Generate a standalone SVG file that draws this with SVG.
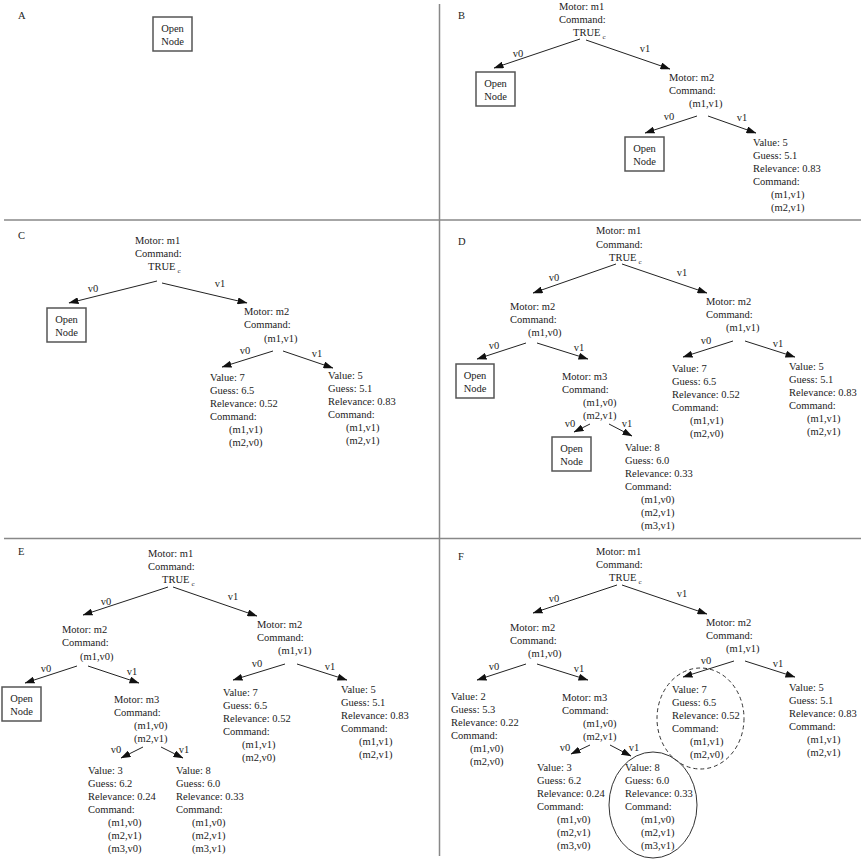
<svg xmlns="http://www.w3.org/2000/svg" width="861" height="861" viewBox="0 0 861 861">
<style>
text{font-family:"Liberation Serif","Times New Roman",serif;font-size:10.5px;fill:#222}
.lbl{text-anchor:middle}
.mid{text-anchor:middle}
.sub{font-size:7px}
.edge{stroke:#222;stroke-width:1;fill:none;marker-end:url(#ah)}
.box{fill:#fff;stroke:#555;stroke-width:1.5}
.div{stroke:#888;stroke-width:1.5}
.sel{fill:none;stroke:#333;stroke-width:1}
.cand{fill:none;stroke:#333;stroke-width:1;stroke-dasharray:4,3}
</style>
<defs>
<marker id="ah" markerUnits="userSpaceOnUse" markerWidth="10" markerHeight="7" refX="9.5" refY="3.5" orient="auto">
<path d="M0,0 L10,3.5 L0,7 z" fill="#111"/>
</marker>
</defs>
<rect width="861" height="861" fill="#fff"/>
<g id="dividers">
<line class="div" x1="439.5" y1="4" x2="439.5" y2="856"/>
<line class="div" x1="4" y1="220" x2="861" y2="220"/>
<line class="div" x1="4" y1="538.5" x2="861" y2="538.5"/>
</g>
<g id="panel-labels">
<text x="18" y="19">A</text>
<text x="458" y="19">B</text>
<text x="18" y="239">C</text>
<text x="458" y="245">D</text>
<text x="18" y="555">E</text>
<text x="458" y="560">F</text>
</g>
<g id="connectors">
<line class="edge" x1="580" y1="39" x2="494" y2="68"/>
<line class="edge" x1="586" y1="40" x2="670" y2="69"/>
<line class="edge" x1="697" y1="116" x2="645" y2="133"/>
<line class="edge" x1="708" y1="116" x2="756" y2="133"/>
<line class="edge" x1="157" y1="281" x2="69" y2="303"/>
<line class="edge" x1="162" y1="283" x2="247" y2="303"/>
<line class="edge" x1="273" y1="351" x2="222" y2="367"/>
<line class="edge" x1="283" y1="351" x2="333" y2="368"/>
<line class="edge" x1="616" y1="264" x2="533" y2="293"/>
<line class="edge" x1="622" y1="264" x2="707" y2="293"/>
<line class="edge" x1="526" y1="343" x2="477" y2="359"/>
<line class="edge" x1="537" y1="343" x2="588" y2="359"/>
<line class="edge" x1="590" y1="424" x2="574" y2="432"/>
<line class="edge" x1="609" y1="424" x2="632" y2="436"/>
<line class="edge" x1="733" y1="341" x2="683" y2="357"/>
<line class="edge" x1="745" y1="341" x2="795" y2="357"/>
<line class="edge" x1="168" y1="587" x2="83" y2="615"/>
<line class="edge" x1="173" y1="587" x2="257" y2="616"/>
<line class="edge" x1="77" y1="666" x2="25" y2="683"/>
<line class="edge" x1="88" y1="666" x2="139" y2="683"/>
<line class="edge" x1="143" y1="747" x2="121" y2="758"/>
<line class="edge" x1="161" y1="747" x2="183" y2="758"/>
<line class="edge" x1="285" y1="664" x2="233" y2="680"/>
<line class="edge" x1="297" y1="664" x2="347" y2="680"/>
<line class="edge" x1="617" y1="585" x2="533" y2="613"/>
<line class="edge" x1="622" y1="585" x2="707" y2="614"/>
<line class="edge" x1="526" y1="664" x2="477" y2="680"/>
<line class="edge" x1="537" y1="664" x2="588" y2="680"/>
<line class="edge" x1="590" y1="745" x2="571" y2="754"/>
<line class="edge" x1="610" y1="745" x2="631" y2="756"/>
<line class="edge" x1="734" y1="661" x2="683" y2="677"/>
<line class="edge" x1="745" y1="661" x2="795" y2="677"/>
<text class="lbl" x="518" y="56.5">v0</text>
<text class="lbl" x="645" y="51.5">v1</text>
<text class="lbl" x="669" y="119.5">v0</text>
<text class="lbl" x="742" y="120.5">v1</text>
<text class="lbl" x="93" y="291.5">v0</text>
<text class="lbl" x="220" y="286.5">v1</text>
<text class="lbl" x="245" y="353.5">v0</text>
<text class="lbl" x="317" y="356.5">v1</text>
<text class="lbl" x="554" y="280.5">v0</text>
<text class="lbl" x="682" y="275.5">v1</text>
<text class="lbl" x="494" y="348.5">v0</text>
<text class="lbl" x="579" y="350.5">v1</text>
<text class="lbl" x="570" y="426.5">v0</text>
<text class="lbl" x="627" y="426.5">v1</text>
<text class="lbl" x="706" y="343.5">v0</text>
<text class="lbl" x="778" y="346.5">v1</text>
<text class="lbl" x="106" y="604.5">v0</text>
<text class="lbl" x="233" y="599.5">v1</text>
<text class="lbl" x="46" y="671.5">v0</text>
<text class="lbl" x="132" y="674.5">v1</text>
<text class="lbl" x="116" y="752.5">v0</text>
<text class="lbl" x="184" y="752.5">v1</text>
<text class="lbl" x="257" y="666.5">v0</text>
<text class="lbl" x="330" y="669.5">v1</text>
<text class="lbl" x="554" y="601.5">v0</text>
<text class="lbl" x="682" y="596.5">v1</text>
<text class="lbl" x="494" y="669.5">v0</text>
<text class="lbl" x="579" y="671.5">v1</text>
<text class="lbl" x="565" y="750.5">v0</text>
<text class="lbl" x="634" y="750.5">v1</text>
<text class="lbl" x="706" y="663.5">v0</text>
<text class="lbl" x="778" y="666.5">v1</text>
</g>
<!-- Panel A -->
<g id="A-open"><rect class="box" x="153" y="17" width="39" height="34"/><text class="mid" x="172.5" y="32">Open</text><text class="mid" x="172.5" y="44.5">Node</text></g>
<!-- Panel B -->
<g id="B-root"><text x="559" y="10">Motor: m1</text><text x="559" y="23">Command:</text><text x="573" y="36">TRUE<tspan class="sub" dx="2" dy="3">c</tspan></text></g>
<g id="B-open1"><rect class="box" x="476" y="72" width="39" height="34"/><text class="mid" x="495.5" y="87">Open</text><text class="mid" x="495.5" y="99.5">Node</text></g>
<g id="B-m2"><text x="669" y="81">Motor: m2</text><text x="669" y="94">Command:</text><text x="689" y="107">(m1,v1)</text></g>
<g id="B-open2"><rect class="box" x="625" y="137" width="39" height="34"/><text class="mid" x="644.5" y="152">Open</text><text class="mid" x="644.5" y="164.5">Node</text></g>
<g id="B-leaf5"><text x="753" y="146">Value: 5</text><text x="753" y="159">Guess: 5.1</text><text x="753" y="172">Relevance: 0.83</text><text x="753" y="185">Command:</text><text x="771" y="198">(m1,v1)</text><text x="771" y="211">(m2,v1)</text></g>
<!-- Panel C -->
<g id="C-root"><text x="135" y="244">Motor: m1</text><text x="135" y="257">Command:</text><text x="148" y="270">TRUE<tspan class="sub" dx="2" dy="3">c</tspan></text></g>
<g id="C-open"><rect class="box" x="47" y="308" width="39" height="34"/><text class="mid" x="66.5" y="323">Open</text><text class="mid" x="66.5" y="335.5">Node</text></g>
<g id="C-m2"><text x="244" y="315">Motor: m2</text><text x="244" y="328">Command:</text><text x="264" y="342">(m1,v1)</text></g>
<g id="C-leaf7"><text x="210" y="381">Value: 7</text><text x="210" y="394">Guess: 6.5</text><text x="210" y="407">Relevance: 0.52</text><text x="210" y="420">Command:</text><text x="229" y="433">(m1,v1)</text><text x="229" y="446">(m2,v0)</text></g>
<g id="C-leaf5"><text x="328" y="379">Value: 5</text><text x="328" y="392">Guess: 5.1</text><text x="328" y="405">Relevance: 0.83</text><text x="328" y="418">Command:</text><text x="346" y="431">(m1,v1)</text><text x="346" y="444">(m2,v1)</text></g>
<!-- Panel D -->
<g id="D-root"><text x="596" y="234">Motor: m1</text><text x="596" y="247.5">Command:</text><text x="609" y="261">TRUE<tspan class="sub" dx="2" dy="3">c</tspan></text></g>
<g id="D-m2a"><text x="510" y="310">Motor: m2</text><text x="510" y="323">Command:</text><text x="528" y="336">(m1,v0)</text></g>
<g id="D-m2b"><text x="706" y="305">Motor: m2</text><text x="706" y="318">Command:</text><text x="726" y="331">(m1,v1)</text></g>
<g id="D-open1"><rect class="box" x="456" y="364" width="38" height="34"/><text class="mid" x="475" y="379">Open</text><text class="mid" x="475" y="391.5">Node</text></g>
<g id="D-m3"><text x="562" y="380">Motor: m3</text><text x="562" y="393">Command:</text><text x="583" y="406">(m1,v0)</text><text x="583" y="419">(m2,v1)</text></g>
<g id="D-open2"><rect class="box" x="552" y="437" width="39" height="34"/><text class="mid" x="571.5" y="452">Open</text><text class="mid" x="571.5" y="464.5">Node</text></g>
<g id="D-leaf8"><text x="625" y="451">Value: 8</text><text x="625" y="464">Guess: 6.0</text><text x="625" y="477">Relevance: 0.33</text><text x="625" y="490">Command:</text><text x="641" y="503">(m1,v0)</text><text x="641" y="516">(m2,v1)</text><text x="641" y="529">(m3,v1)</text></g>
<g id="D-leaf7"><text x="672" y="372">Value: 7</text><text x="672" y="385">Guess: 6.5</text><text x="672" y="398">Relevance: 0.52</text><text x="672" y="411">Command:</text><text x="690" y="424">(m1,v1)</text><text x="690" y="437">(m2,v0)</text></g>
<g id="D-leaf5"><text x="789" y="370">Value: 5</text><text x="789" y="383">Guess: 5.1</text><text x="789" y="396">Relevance: 0.83</text><text x="789" y="409">Command:</text><text x="807" y="422">(m1,v1)</text><text x="807" y="435">(m2,v1)</text></g>
<!-- Panel E -->
<g id="E-root"><text x="148" y="557">Motor: m1</text><text x="148" y="570">Command:</text><text x="162" y="583">TRUE<tspan class="sub" dx="2" dy="3">c</tspan></text></g>
<g id="E-m2a"><text x="62" y="633">Motor: m2</text><text x="62" y="646">Command:</text><text x="80" y="660">(m1,v0)</text></g>
<g id="E-m2b"><text x="257" y="628">Motor: m2</text><text x="257" y="641">Command:</text><text x="278" y="654">(m1,v1)</text></g>
<g id="E-open"><rect class="box" x="2" y="687" width="39" height="34"/><text class="mid" x="21.5" y="702">Open</text><text class="mid" x="21.5" y="714.5">Node</text></g>
<g id="E-m3"><text x="114" y="703">Motor: m3</text><text x="114" y="716">Command:</text><text x="134" y="729">(m1,v0)</text><text x="134" y="742">(m2,v1)</text></g>
<g id="E-leaf3"><text x="88" y="774">Value: 3</text><text x="88" y="787">Guess: 6.2</text><text x="88" y="800">Relevance: 0.24</text><text x="88" y="813">Command:</text><text x="108" y="826">(m1,v0)</text><text x="108" y="839">(m2,v1)</text><text x="108" y="852">(m3,v0)</text></g>
<g id="E-leaf8"><text x="176" y="774">Value: 8</text><text x="176" y="787">Guess: 6.0</text><text x="176" y="800">Relevance: 0.33</text><text x="176" y="813">Command:</text><text x="192" y="826">(m1,v0)</text><text x="192" y="839">(m2,v1)</text><text x="192" y="852">(m3,v1)</text></g>
<g id="E-leaf7"><text x="223" y="696">Value: 7</text><text x="223" y="709">Guess: 6.5</text><text x="223" y="722">Relevance: 0.52</text><text x="223" y="735">Command:</text><text x="242" y="748">(m1,v1)</text><text x="242" y="761">(m2,v0)</text></g>
<g id="E-leaf5"><text x="341" y="693">Value: 5</text><text x="341" y="706">Guess: 5.1</text><text x="341" y="719">Relevance: 0.83</text><text x="341" y="732">Command:</text><text x="359" y="745">(m1,v1)</text><text x="359" y="758">(m2,v1)</text></g>
<!-- Panel F -->
<g id="F-root"><text x="596" y="555">Motor: m1</text><text x="596" y="568">Command:</text><text x="609" y="581">TRUE<tspan class="sub" dx="2" dy="3">c</tspan></text></g>
<g id="F-m2a"><text x="510" y="631">Motor: m2</text><text x="510" y="644">Command:</text><text x="528" y="657">(m1,v0)</text></g>
<g id="F-m2b"><text x="706" y="626">Motor: m2</text><text x="706" y="639">Command:</text><text x="726" y="652">(m1,v1)</text></g>
<g id="F-leaf2"><text x="451" y="700">Value: 2</text><text x="451" y="713">Guess: 5.3</text><text x="451" y="726">Relevance: 0.22</text><text x="451" y="739">Command:</text><text x="470" y="752">(m1,v0)</text><text x="470" y="765">(m2,v0)</text></g>
<g id="F-m3"><text x="562" y="701">Motor: m3</text><text x="562" y="714">Command:</text><text x="583" y="727">(m1,v0)</text><text x="583" y="740">(m2,v1)</text></g>
<g id="F-leaf3"><text x="537" y="771">Value: 3</text><text x="537" y="784">Guess: 6.2</text><text x="537" y="797">Relevance: 0.24</text><text x="537" y="810">Command:</text><text x="557" y="823">(m1,v0)</text><text x="557" y="836">(m2,v1)</text><text x="557" y="849">(m3,v0)</text></g>
<g id="F-leaf8"><ellipse class="sel" cx="653" cy="805" rx="44" ry="53"/><text x="625" y="771">Value: 8</text><text x="625" y="784">Guess: 6.0</text><text x="625" y="797">Relevance: 0.33</text><text x="625" y="810">Command:</text><text x="641" y="823">(m1,v0)</text><text x="641" y="836">(m2,v1)</text><text x="641" y="849">(m3,v1)</text></g>
<g id="F-leaf7"><ellipse class="cand" cx="700.5" cy="718.5" rx="43.5" ry="50.5"/><text x="672" y="693">Value: 7</text><text x="672" y="706">Guess: 6.5</text><text x="672" y="719">Relevance: 0.52</text><text x="672" y="732">Command:</text><text x="690" y="745">(m1,v1)</text><text x="690" y="758">(m2,v0)</text></g>
<g id="F-leaf5"><text x="789" y="691">Value: 5</text><text x="789" y="704">Guess: 5.1</text><text x="789" y="717">Relevance: 0.83</text><text x="789" y="730">Command:</text><text x="807" y="743">(m1,v1)</text><text x="807" y="756">(m2,v1)</text></g>
</svg>
